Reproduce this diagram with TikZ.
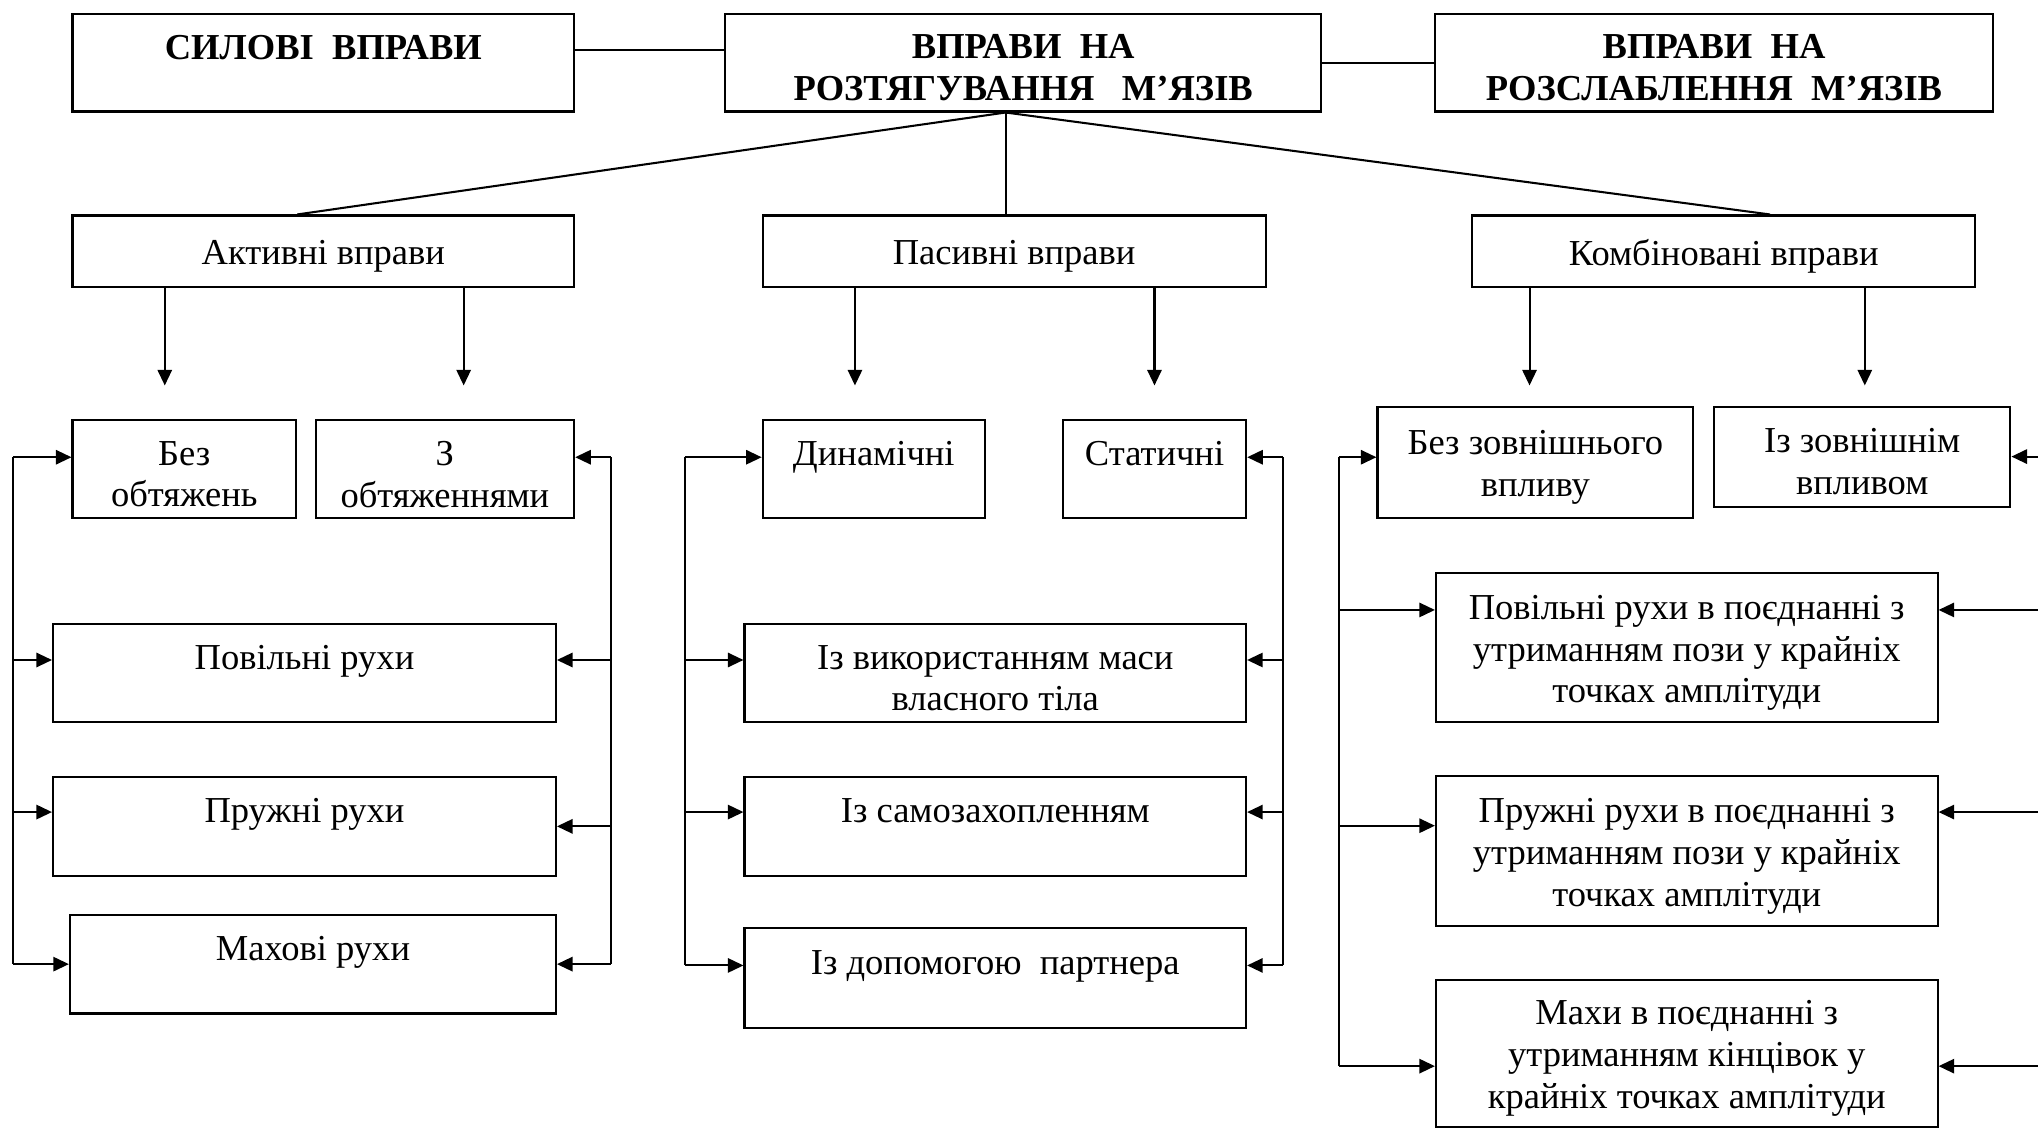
\documentclass[tikz,border=0pt]{standalone}
\usepackage{fontspec}
\setmainfont{Liberation Serif}
\usetikzlibrary{arrows.meta}

\begin{document}
\begin{tikzpicture}[x=0.02cm, y=-0.02cm,
  box/.style={draw, line width=0.9pt, align=center, inner sep=0pt, anchor=north west,
    font=\fontsize{16}{18.3}\selectfont,
    execute at begin node={\vbox\bgroup\kern4.6pt\hbox\bgroup},
    execute at end node={\egroup\egroup}},
  head/.style={box, font=\fontsize{16}{18.3}\selectfont\bfseries},
  link/.style={line width=0.9pt},
  arr/.style={line width=0.9pt, -{Triangle[length=2.4mm,width=2.2mm]}}]

  \useasboundingbox (0,0) rectangle (1568,868);

  % Top row
  \node[head, minimum width=7.72cm, minimum height=1.5cm] (sil) at (55,10) {СИЛОВІ\ \ ВПРАВИ\\~};
  \node[head, minimum width=9.18cm, minimum height=1.5cm] (str) at (557,10) {ВПРАВИ\ \ НА\\РОЗТЯГУВАННЯ\ \ \ М’ЯЗІВ};
  \node[head, minimum width=8.6cm, minimum height=1.5cm] (rel) at (1103,10) {ВПРАВИ\ \ НА\\РОЗСЛАБЛЕННЯ\ \ М’ЯЗІВ};

  \coordinate (silR) at ([yshift=0.19cm]sil.east);
  \draw[link] (silR) -- (silR -| str.west);
  \draw[link] (str.east) -- (rel.west);

  % Second row
  \node[box, minimum width=7.72cm, minimum height=1.1cm] (act) at (55,165) {Активні вправи};
  \node[box, minimum width=7.74cm, minimum height=1.1cm] (pas) at (586,165) {Пасивні вправи};
  \node[box, minimum width=7.74cm, minimum height=1.1cm] (kom) at (1132,165) {Комбіновані вправи};

  \coordinate (root) at ([xshift=-0.27cm]str.south);
  \draw[link] (root) -- ([xshift=-0.4cm]act.north);
  \draw[link] (root) -- (root |- pas.north);
  \draw[link] (root) -- ([xshift=0.71cm]kom.north);

  \foreach \n/\dx in {act/-2.44, act/2.16, pas/-2.45, pas/2.16, kom/-2.99, kom/2.17}
    \draw[arr] ([xshift=\dx cm]\n.south) -- ++(0,75);

  % Active exercises
  \node[box, minimum width=3.44cm, minimum height=1.52cm] (bez) at (55,322) {Без\\обтяжень};
  \node[box, minimum width=3.98cm, minimum height=1.52cm] (zobt) at (242,322) {З\\обтяженнями};
  \node[box, minimum width=7.74cm, minimum height=1.52cm] (slowA) at (40,479) {Повільні рухи\\~};
  \node[box, minimum width=7.74cm, minimum height=1.52cm] (sprA) at (40,597) {Пружні рухи\\~};
  \node[box, minimum width=7.48cm, minimum height=1.52cm] (swA) at (53,703) {Махові рухи\\~};

  % Passive exercises
  \node[box, minimum width=3.42cm, minimum height=1.52cm] (dyn) at (586,322) {Динамічні\\~};
  \node[box, minimum width=2.82cm, minimum height=1.52cm] (stat) at (817,322) {Статичні\\~};
  \node[box, minimum width=7.72cm, minimum height=1.52cm] (mass) at (572,479) {Із використанням маси\\власного тіла};
  \node[box, minimum width=7.72cm, minimum height=1.52cm] (self) at (572,597) {Із самозахопленням\\~};
  \node[box, minimum width=7.72cm, minimum height=1.54cm] (partner) at (572,713) {Із допомогою\ \ партнера\\~};

  % Combined exercises
  \node[box, minimum width=4.86cm, minimum height=1.72cm] (bzv) at (1059,312) {Без зовнішнього\\впливу};
  \node[box, minimum width=4.56cm, minimum height=1.54cm] (zzv) at (1318,312) {Із зовнішнім\\впливом};
  \node[box, minimum width=7.72cm, minimum height=2.3cm] (slowC) at (1104,440) {Повільні рухи в поєднанні з\\утриманням пози у крайніх\\точках амплітуди};
  \node[box, minimum width=7.72cm, minimum height=2.32cm] (sprC) at (1104,596) {Пружні рухи в поєднанні з\\утриманням пози у крайніх\\точках амплітуди};
  \node[box, minimum width=7.72cm, minimum height=2.26cm] (swC) at (1104,753) {Махи в поєднанні з\\утриманням кінцівок у\\крайніх точках амплітуди};

  % Buses
  \coordinate (aL) at (10,351);
  \coordinate (aR) at (470,351);
  \coordinate (bL) at (527,351);
  \coordinate (bR) at (987,351);
  \coordinate (cL) at (1030,351);
  \coordinate (cR) at (1568,351);

  \foreach \n/\s in {bez/0.18, slowA/0.2, sprA/0.22, swA/0} {
    \coordinate (\n-w) at ([yshift=\s cm]\n.west);
    \draw[arr] (aL |- \n-w) -- (\n-w);
  }
  \foreach \n/\s in {zobt/0.18, slowA/0.2, sprA/0, swA/0} {
    \coordinate (\n-e) at ([yshift=\s cm]\n.east);
    \draw[arr] (aR |- \n-e) -- (\n-e);
  }
  \draw[link] (aL |- bez-w) -- (aL |- swA-w);
  \draw[link] (aR |- zobt-e) -- (aR |- swA-e);

  \foreach \n/\s in {dyn/0.18, mass/0.2, self/0.22, partner/0.19} {
    \coordinate (\n-w) at ([yshift=\s cm]\n.west);
    \draw[arr] (bL |- \n-w) -- (\n-w);
  }
  \foreach \n/\s in {stat/0.18, mass/0.2, self/0.22, partner/0.19} {
    \coordinate (\n-e) at ([yshift=\s cm]\n.east);
    \draw[arr] (bR |- \n-e) -- (\n-e);
  }
  \draw[link] (bL |- dyn-w) -- (bL |- partner-w);
  \draw[link] (bR |- stat-e) -- (bR |- partner-e);

  \foreach \n/\s in {bzv/0.08, slowC/0.58, sprC/0.39, swC/-0.2} {
    \coordinate (\n-w) at ([yshift=\s cm]\n.west);
    \draw[arr] (cL |- \n-w) -- (\n-w);
  }
  \foreach \n/\s in {zzv/0, slowC/0.58, sprC/0.6, swC/-0.2} {
    \coordinate (\n-e) at ([yshift=\s cm]\n.east);
    \draw[arr] (cR |- \n-e) -- (\n-e);
  }
  \draw[link] (cL |- bzv-w) -- (cL |- swC-w);

\end{tikzpicture}
\end{document}
